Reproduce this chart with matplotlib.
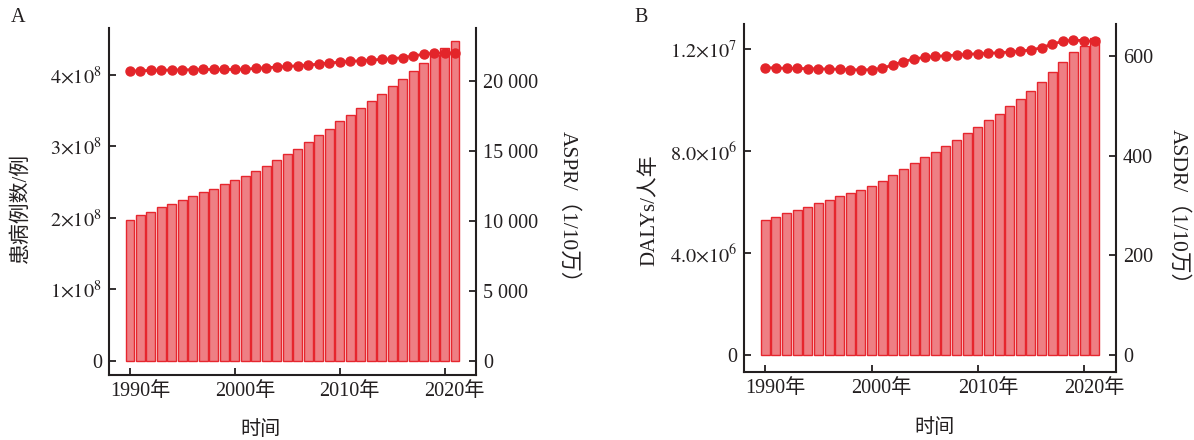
import matplotlib
matplotlib.use('Agg')
import matplotlib.pyplot as plt

# ---------------- data ----------------
years = list(range(1990, 2022))

# Panel A: prevalent cases (bars, left axis) and ASPR per 100k (line, right axis)
cases = [1.976e8, 2.04e8, 2.09e8, 2.15e8, 2.20e8, 2.25e8, 2.31e8, 2.36e8,
         2.41e8, 2.48e8, 2.53e8, 2.59e8, 2.66e8, 2.73e8, 2.81e8, 2.89e8,
         2.97e8, 3.06e8, 3.16e8, 3.25e8, 3.35e8, 3.44e8, 3.54e8, 3.63e8,
         3.73e8, 3.84e8, 3.95e8, 4.06e8, 4.17e8, 4.28e8, 4.38e8, 4.47e8]
aspr = [20744, 20768, 20792, 20816, 20816, 20840, 20840, 20864,
        20864, 20864, 20864, 20888, 20936, 20984, 21032, 21080,
        21128, 21176, 21248, 21320, 21393, 21441, 21489, 21537,
        21585, 21633, 21705, 21825, 21945, 22017, 22041, 22041]

# Panel B: DALYs (bars, left axis) and ASDR per 100k (line, right axis)
dalys = [5.29e6, 5.41e6, 5.56e6, 5.69e6, 5.82e6, 5.95e6, 6.08e6, 6.22e6,
         6.34e6, 6.48e6, 6.63e6, 6.82e6, 7.05e6, 7.28e6, 7.54e6, 7.75e6,
         7.97e6, 8.21e6, 8.44e6, 8.69e6, 8.95e6, 9.20e6, 9.46e6, 9.75e6,
         10.05e6, 10.34e6, 10.69e6, 11.10e6, 11.50e6, 11.87e6, 12.13e6, 12.42e6]
asdr = [576.7, 576.0, 575.3, 575.0, 574.7, 574.0, 574.0, 573.3,
        572.7, 572.0, 572.7, 575.3, 582.0, 588.7, 594.0, 597.3,
        599.3, 600.7, 602.0, 603.3, 604.7, 605.3, 606.7, 608.0,
        610.0, 612.0, 616.7, 624.0, 629.3, 632.0, 630.7, 629.3]

xticks = [1990, 2000, 2010, 2020]
xticklabels = ['1990年', '2000年', '2010年', '2020年']

A_lticks = [0, 1e8, 2e8, 3e8, 4e8]
A_llabels = ['0', r'$1{\times}10^{8}$', r'$2{\times}10^{8}$', r'$3{\times}10^{8}$', r'$4{\times}10^{8}$']
A_rticks = [0, 5000, 10000, 15000, 20000]
A_rlabels = ['0', '5 000', '10 000', '15 000', '20 000']

B_lticks = [0, 4e6, 8e6, 12e6]
B_llabels = ['0', r'$4.0{\times}10^{6}$', r'$8.0{\times}10^{6}$', r'$1.2{\times}10^{7}$']
B_rticks = [0, 200, 400, 600]
B_rlabels = ['0', '200', '400', '600']

# ---------------- style ----------------
plt.rcParams['font.family'] = ['Liberation Serif', 'Noto Sans CJK SC']
plt.rcParams['mathtext.fontset'] = 'stix'

BAR_FILL = '#EE7F84'
BAR_EDGE = '#E6262E'
LINE_C = '#E3252A'
SPINE_C = '#231F20'
FS = 14.5

W, H = 1194, 440
fig = plt.figure(figsize=(W / 100, H / 100), dpi=100)


def px_axes(l, t, r, b):
    return fig.add_axes([l / W, 1 - b / H, (r - l) / W, (b - t) / H])


def draw(ax, bars, line, ylim_l, ylim_r, lt, ll, rt, rl):
    ax.bar(years, bars, width=0.85, color=BAR_FILL, edgecolor=BAR_EDGE,
           linewidth=1.0, zorder=2)
    ax.set_xlim(1988, 2023)
    ax.set_ylim(*ylim_l)
    ax.set_yticks(lt)
    ax.set_yticklabels(ll)
    ax.set_xticks(xticks)
    ax.set_xticklabels([])
    # year labels: the number is centred on the tick, "年" hangs to the right
    for xv, lab in zip(xticks, xticklabels):
        ax.annotate(lab, xy=(xv, 0), xycoords=('data', 'axes fraction'),
                    xytext=(-FS, -5), textcoords='offset points',
                    ha='left', va='top', fontsize=FS, color='#231F20',
                    annotation_clip=False)

    ax2 = ax.twinx()
    ax2.plot(years, line, color=LINE_C, marker='o', markersize=6.5,
             linewidth=2.0, zorder=3)
    ax2.set_ylim(*ylim_r)
    ax2.set_yticks(rt)
    ax2.set_yticklabels(rl)

    for a in (ax, ax2):
        a.spines['top'].set_visible(False)
        for s in a.spines.values():
            s.set_color(SPINE_C)
            s.set_linewidth(1.5)
        a.tick_params(direction='in', length=5, width=1.3, color=SPINE_C,
                      labelsize=FS, pad=5, labelcolor='#231F20')
    ax.spines['right'].set_visible(False)
    ax2.spines['left'].set_visible(False)
    ax2.spines['bottom'].set_visible(False)
    return ax2


axA = px_axes(109, 28, 476, 375)
draw(axA, cases, aspr, (-0.196e8, 4.657e8), (-1002, 23828),
     A_lticks, A_llabels, A_rticks, A_rlabels)

axB = px_axes(744, 24, 1116, 372)
draw(axB, dalys, asdr, (-0.667e6, 12.98e6), (-34.1, 664.2),
     B_lticks, B_llabels, B_rticks, B_rlabels)


def ftext(x, y, s, rot=0, fs=FS):
    fig.text(x / W, 1 - y / H, s, rotation=rot, ha='center', va='center',
             fontsize=fs, color='#231F20')


ftext(18, 18, 'A')
ftext(641, 18, 'B')
ftext(260, 430, '时间')
ftext(934, 428, '时间')
ftext(21, 208, '患病例数/例', rot=90, fs=15)
ftext(650, 210, 'DALYs/人年', rot=90, fs=15)
ftext(568, 212, 'ASPR/（1/10万）', rot=-90, fs=15.5)
ftext(1178, 212, 'ASDR/（1/10万）', rot=-90, fs=15.5)

fig.savefig('out.png', dpi=100)
